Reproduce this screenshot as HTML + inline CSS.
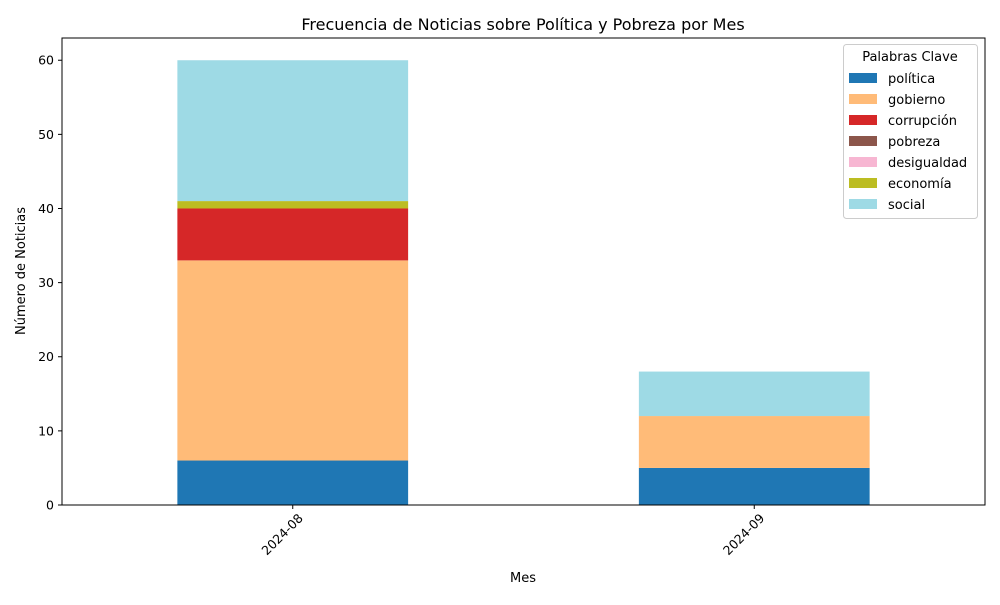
<!DOCTYPE html>
<html><head><meta charset="utf-8"><style>body{margin:0;background:#fff}svg{font-family:"DejaVu Sans","Liberation Sans",sans-serif}</style></head>
<body>
<svg id="chart" width="1000" height="600">
<text x="523" y="30" text-anchor="middle" font-size="16">Frecuencia de Noticias sobre Política y Pobreza por Mes</text>
<g id="plot"></g>
<text x="523" y="582" text-anchor="middle" font-size="13">Mes</text>
<text transform="translate(25,271) rotate(-90)" text-anchor="middle" font-size="13">Número de Noticias</text>
</svg>
<script>
const categories = ["2024-08", "2024-09"];
const seriesNames = ["política","gobierno","corrupción","pobreza","desigualdad","economía","social"];
const politica = [6, 5];
const gobierno = [27, 7];
const corrupcion = [7, 0];
const pobreza = [0, 0];
const desigualdad = [0, 0];
const economia = [1, 0];
const social = [19, 6];
const yTicks = [0,10,20,30,40,50,60];
const series = [politica,gobierno,corrupcion,pobreza,desigualdad,economia,social];
const colors = ["#1f77b4","#ffbb78","#d62728","#8c564b","#f7b6d2","#bcbd22","#9edae5"];
const L=62,R=985,T=38,B=505,YMAX=63;
const y=v=>B-(v/YMAX)*(B-T);
const step=(R-L)/categories.length;
const x=i=>L+step*(i+0.5);
const bw=step*0.5;
const NS="http://www.w3.org/2000/svg";
const g=document.getElementById('plot');
function mk(t,a){const e=document.createElementNS(NS,t);for(const k in a)e.setAttribute(k,a[k]);g.appendChild(e);return e;}
categories.forEach((c,i)=>{
  let base=0;
  series.forEach((s,j)=>{
    const v=s[i];
    if(v>0){
      const r=mk('rect',{x:x(i)-bw/2,y:y(base+v),width:bw,height:y(base)-y(base+v),fill:colors[j]});
      
      
    }
    base+=v;
  });
  mk('line',{x1:x(i),x2:x(i),y1:B,y2:B+4,stroke:'#000'});
  const t=mk('text',{transform:`translate(${x(i)+11},${B+14}) rotate(-45)`,'text-anchor':'end','font-size':12.5});
  t.textContent=c;
  
  
});
yTicks.forEach(v=>{
  mk('line',{x1:L-4,x2:L,y1:y(v),y2:y(v),stroke:'#000'});
  const t=mk('text',{x:L-8,y:y(v)+4.5,'text-anchor':'end','font-size':12.5});
  t.textContent=v;
  
  
});
const fr=mk('rect',{x:L,y:T,width:R-L,height:B-T,fill:'none',stroke:'#000','stroke-width':1});


const lg=mk('rect',{x:843.5,y:44.5,width:134,height:174,fill:'#fff',stroke:'#ccc',rx:3});


const lt=mk('text',{x:910,y:61,'text-anchor':'middle','font-size':13});
lt.textContent='Palabras Clave';


seriesNames.forEach((n,j)=>{
  const yy=78+j*21;
  const p=mk('rect',{x:849,y:yy-5,width:28,height:10,fill:colors[j]});
  
  
  const t=mk('text',{x:888,y:yy+5,'font-size':13});
  t.textContent=n;
  
  
});
</script>
</body></html>
